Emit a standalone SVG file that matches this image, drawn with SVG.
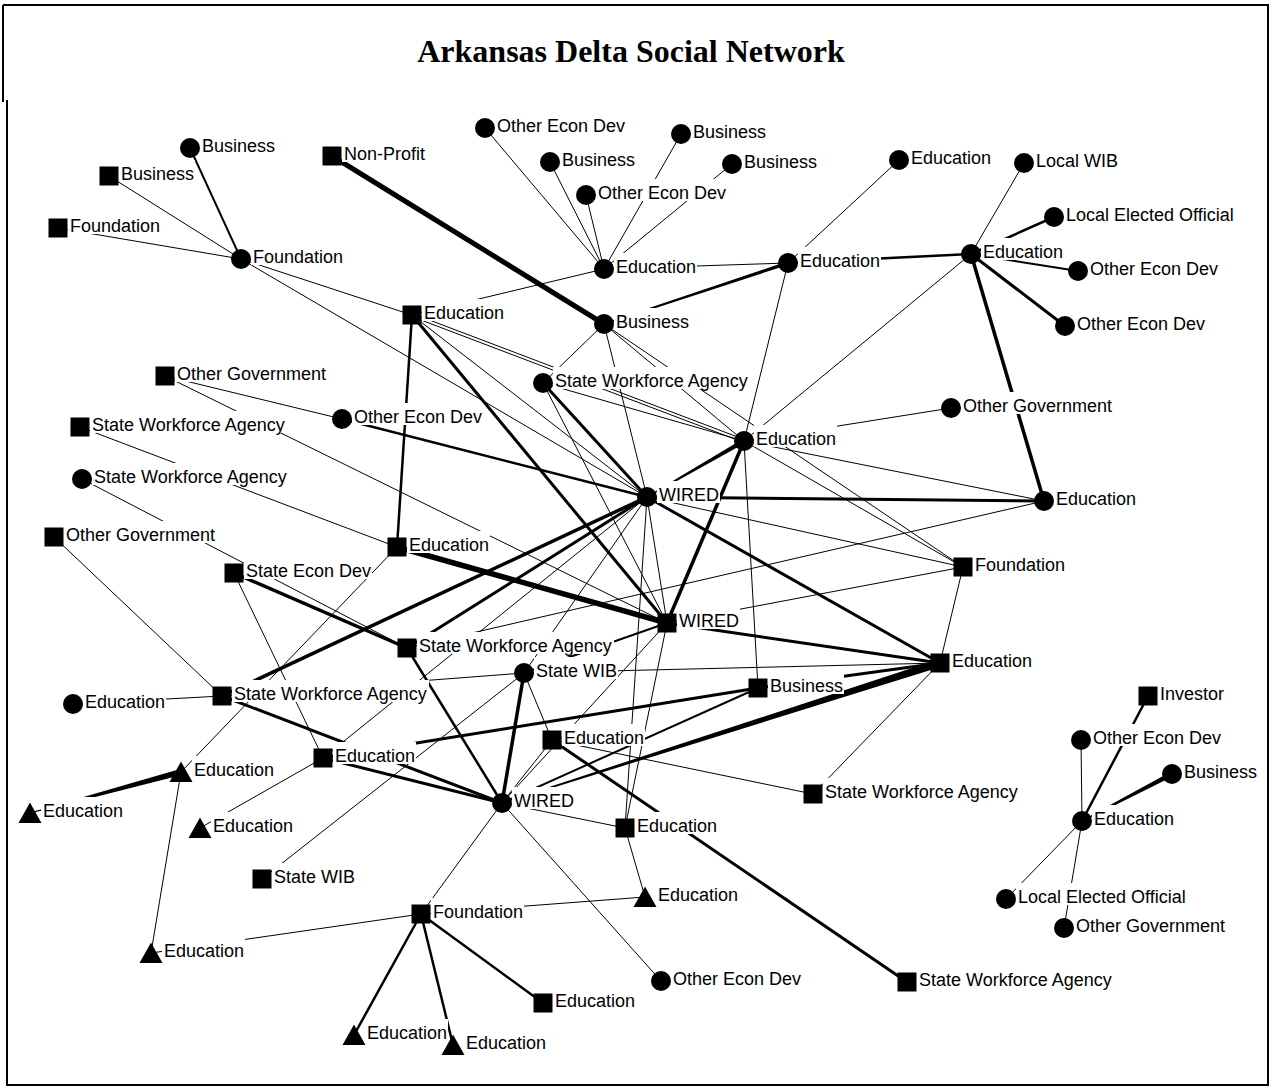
<svg xmlns="http://www.w3.org/2000/svg" width="1271" height="1086" viewBox="0 0 1271 1086">
<style>
  .frame{fill:none;stroke:#000;stroke-width:2}
  .title{font-family:"Liberation Serif","Times New Roman",serif;font-weight:bold;font-size:32px;fill:#000;text-anchor:middle}
  #edges line{stroke:#000;stroke-linecap:butt}
  #edges .w{fill:#000;stroke:none}
  .e1{stroke-width:1}
  .e2{stroke-width:2}
  .e25{stroke-width:2.5}
  .e3{stroke-width:3}
  .e35{stroke-width:3.5}
  .e5{stroke-width:5}
  .e55{stroke-width:5.5}
  .nodes circle,.nodes rect.s,.nodes polygon{fill:#000}
  .nodes rect.lb{fill:#fff}
  .nodes text{font-family:"Liberation Sans",Arial,sans-serif;font-size:18px;fill:#000}
</style>
<rect x="0" y="0" width="1271" height="1086" fill="#fff"/>
<path class="frame" d="M3,5 H1268 V1085 H7 V100 M3,5 V102"/>
<text class="title" x="631" y="62">Arkansas Delta Social Network</text>

<g id="edges">
  <!-- thin ties -->
  <line class="e1" x1="109" y1="176" x2="241" y2="259"/>
  <line class="e1" x1="58" y1="228" x2="241" y2="259"/>
  <line class="e1" x1="241" y1="259" x2="412" y2="315"/>
  <line class="e1" x1="241" y1="259" x2="647" y2="497"/>
  <line class="e1" x1="485" y1="128" x2="604" y2="269"/>
  <line class="e1" x1="550" y1="162" x2="604" y2="269"/>
  <line class="e1" x1="586" y1="195" x2="604" y2="269"/>
  <line class="e1" x1="681" y1="134" x2="604" y2="269"/>
  <line class="e1" x1="732" y1="164" x2="604" y2="269"/>
  <line class="e1" x1="604" y1="269" x2="788" y2="263"/>
  <line class="e1" x1="604" y1="269" x2="412" y2="315"/>
  <line class="e1" x1="788" y1="263" x2="899" y2="160"/>
  <line class="e1" x1="788" y1="263" x2="744" y2="441"/>
  <line class="e1" x1="1024" y1="163" x2="971" y2="254"/>
  <line class="e1" x1="971" y1="254" x2="744" y2="441"/>
  <line class="e1" x1="604" y1="324" x2="543" y2="383"/>
  <line class="e1" x1="604" y1="324" x2="647" y2="497"/>
  <line class="e1" x1="604" y1="324" x2="744" y2="441"/>
  <line class="e1" x1="604" y1="324" x2="963" y2="567"/>
  <line class="e1" x1="412" y1="315" x2="647" y2="497"/>
  <line class="e1" x1="411.5" y1="316.4" x2="743.5" y2="442.4"/>
  <line class="e1" x1="412.5" y1="313.6" x2="744.5" y2="439.6"/>
  <line class="e1" x1="543" y1="383" x2="744" y2="441"/>
  <line class="e1" x1="543" y1="383" x2="667" y2="623"/>
  <line class="e1" x1="951" y1="408" x2="744" y2="441"/>
  <line class="e1" x1="744" y1="441" x2="1044" y2="501"/>
  <line class="e1" x1="744" y1="441" x2="963" y2="567"/>
  <line class="e1" x1="744" y1="441" x2="758" y2="688"/>
  <line class="e1" x1="647" y1="497" x2="963" y2="567"/>
  <line class="e1" x1="667" y1="623" x2="963" y2="567"/>
  <line class="e1" x1="407" y1="648" x2="1044" y2="501"/>
  <line class="e1" x1="524" y1="673" x2="940" y2="663"/>
  <line class="e1" x1="963" y1="567" x2="940" y2="663"/>
  <line class="e1" x1="940" y1="663" x2="813" y2="794"/>
  <line class="e1" x1="647" y1="497" x2="625" y2="828"/>
  <line class="e1" x1="667" y1="623" x2="625" y2="828"/>
  <line class="e1" x1="647" y1="497" x2="667" y2="623"/>
  <line class="e1" x1="342" y1="419" x2="165" y2="376"/>
  <line class="e1" x1="165" y1="376" x2="667" y2="623"/>
  <line class="e1" x1="80" y1="427" x2="397" y2="547"/>
  <line class="e1" x1="82" y1="479" x2="407" y2="648"/>
  <line class="e1" x1="54" y1="537" x2="222" y2="696"/>
  <line class="e1" x1="234" y1="573" x2="323" y2="758"/>
  <line class="e1" x1="73" y1="704" x2="222" y2="696"/>
  <line class="e1" x1="397" y1="547" x2="181" y2="772"/>
  <line class="e1" x1="323" y1="758" x2="200" y2="828"/>
  <line class="e1" x1="323" y1="758" x2="647" y2="497"/>
  <line class="e1" x1="524" y1="673" x2="647" y2="497"/>
  <line class="e1" x1="524" y1="673" x2="552" y2="740"/>
  <line class="e1" x1="524" y1="673" x2="222" y2="696"/>
  <line class="e1" x1="262" y1="879" x2="524" y2="673"/>
  <line class="e1" x1="502" y1="803" x2="667" y2="623"/>
  <line class="e1" x1="502" y1="803" x2="552" y2="740"/>
  <line class="e1" x1="502" y1="803" x2="625" y2="828"/>
  <line class="e1" x1="502" y1="803" x2="421" y2="914"/>
  <line class="e1" x1="502" y1="803" x2="661" y2="981"/>
  <line class="e1" x1="552" y1="740" x2="813" y2="794"/>
  <line class="e1" x1="625" y1="828" x2="645" y2="897"/>
  <line class="e1" x1="421" y1="914" x2="645" y2="897"/>
  <line class="e1" x1="421" y1="914" x2="151" y2="953"/>
  <line class="e1" x1="181" y1="772" x2="151" y2="953"/>
  <line class="e1" x1="1081" y1="740" x2="1082" y2="821"/>
  <line class="e1" x1="1006" y1="899" x2="1082" y2="821"/>
  <line class="e1" x1="1064" y1="928" x2="1082" y2="821"/>

  <!-- medium ties -->
  <line class="e2" x1="190" y1="148" x2="241" y2="259"/>
  <line class="e25" x1="788" y1="263" x2="971" y2="254"/>
  <line class="e25" x1="1054" y1="217" x2="971" y2="254"/>
  <line class="e2" x1="971" y1="254" x2="1078" y2="271"/>
  <line class="e25" x1="342" y1="419" x2="647" y2="497"/>
  <line class="e25" x1="407" y1="648" x2="502" y2="803"/>
  <line class="e2" x1="502" y1="803" x2="758" y2="688"/>
  <line class="e2" x1="524" y1="673" x2="667" y2="623"/>
  <line class="e25" x1="1148" y1="696" x2="1082" y2="821"/>
  <line class="e25" x1="421" y1="914" x2="543" y2="1003"/>
  <line class="e25" x1="421" y1="914" x2="453" y2="1045"/>
  <line class="e25" x1="421" y1="914" x2="354" y2="1035"/>
  <line class="e3" x1="543" y1="383" x2="647" y2="497"/>

  <!-- strong ties -->
  <line class="e3" x1="971" y1="254" x2="1065" y2="326"/>
  <line class="e35" x1="971" y1="254" x2="1044" y2="501"/>
  <line class="e3" x1="647" y1="497" x2="1044" y2="501"/>
  <line class="e3" x1="647" y1="497" x2="940" y2="663"/>
  <line class="e3" x1="667" y1="623" x2="940" y2="663"/>
  <line class="e3" x1="758" y1="688" x2="940" y2="663"/>
  <line class="e3" x1="323" y1="758" x2="758" y2="688"/>
  <line class="e35" x1="222" y1="696" x2="647" y2="497"/>
  <line class="e3" x1="407" y1="648" x2="647" y2="497"/>
  <line class="e3" x1="222" y1="696" x2="502" y2="803"/>
  <line class="e3" x1="323" y1="758" x2="502" y2="803"/>
  <line class="e35" x1="234" y1="573" x2="407" y2="648"/>
  <line class="e3" x1="552" y1="740" x2="907" y2="982"/>
  <line class="e25" x1="412" y1="315" x2="397" y2="547"/>
  <line class="e3" x1="412" y1="315" x2="667" y2="623"/>
  <line class="e35" x1="744" y1="441" x2="667" y2="623"/>
  <line class="e35" x1="524" y1="673" x2="502" y2="803"/>
  <line class="e5" x1="332" y1="156" x2="604" y2="324"/>
  <line class="e55" x1="397" y1="547" x2="667" y2="623"/>

  <!-- tapered ties -->
  <polygon class="w" points="938.78,659.19 501.85,802.52 502.15,803.48 941.22,666.81"/>
  <polygon class="w" points="742.88,439.05 646.75,496.57 647.25,497.43 745.13,442.95"/>
  <polygon class="w" points="180.21,769.1 29.87,812.52 30.13,813.48 181.79,774.9"/>
  <polygon class="w" points="1170.84,771.78 1081.77,820.56 1082.23,821.44 1173.16,776.22"/>
  <polygon class="w" points="787.45,261.34 603.76,323.29 604.24,324.71 788.55,264.66"/>
</g>

<g class="nodes">
  <g id="n1"><circle cx="190" cy="148" r="10"/><rect class="lb" x="200" y="132" width="76" height="22"/><text x="202" y="151.5">Business</text></g>
  <g id="n2"><rect class="s" x="99.5" y="166.5" width="19" height="19"/><rect class="lb" x="119" y="160" width="76" height="22"/><text x="121" y="179.5">Business</text></g>
  <g id="n3"><rect class="s" x="48.5" y="218.5" width="19" height="19"/><rect class="lb" x="68" y="212" width="93" height="22"/><text x="70" y="231.5">Foundation</text></g>
  <g id="n4"><circle cx="241" cy="259" r="10"/><rect class="lb" x="251" y="243" width="93" height="22"/><text x="253" y="262.5">Foundation</text></g>
  <g id="n5"><rect class="s" x="322.5" y="146.5" width="19" height="19"/><rect class="lb" x="342" y="140" width="84" height="22"/><text x="344" y="159.5">Non-Profit</text></g>
  <g id="n6"><circle cx="485" cy="128" r="10"/><rect class="lb" x="495" y="112" width="131" height="22"/><text x="497" y="131.5">Other Econ Dev</text></g>
  <g id="n7"><circle cx="550" cy="162" r="10"/><rect class="lb" x="560" y="146" width="76" height="22"/><text x="562" y="165.5">Business</text></g>
  <g id="n8"><circle cx="586" cy="195" r="10"/><rect class="lb" x="596" y="179" width="131" height="22"/><text x="598" y="198.5">Other Econ Dev</text></g>
  <g id="n9"><circle cx="681" cy="134" r="10"/><rect class="lb" x="691" y="118" width="76" height="22"/><text x="693" y="137.5">Business</text></g>
  <g id="n10"><circle cx="732" cy="164" r="10"/><rect class="lb" x="742" y="148" width="76" height="22"/><text x="744" y="167.5">Business</text></g>
  <g id="n11"><circle cx="604" cy="269" r="10"/><rect class="lb" x="614" y="253" width="83" height="22"/><text x="616" y="272.5">Education</text></g>
  <g id="n12"><circle cx="788" cy="263" r="10"/><rect class="lb" x="798" y="247" width="83" height="22"/><text x="800" y="266.5">Education</text></g>
  <g id="n13"><circle cx="604" cy="324" r="10"/><rect class="lb" x="614" y="308" width="76" height="22"/><text x="616" y="327.5">Business</text></g>
  <g id="n14"><rect class="s" x="402.5" y="305.5" width="19" height="19"/><rect class="lb" x="422" y="299" width="83" height="22"/><text x="424" y="318.5">Education</text></g>
  <g id="n15"><circle cx="543" cy="383" r="10"/><rect class="lb" x="553" y="367" width="197" height="22"/><text x="555" y="386.5">State Workforce Agency</text></g>
  <g id="n16"><circle cx="899" cy="160" r="10"/><rect class="lb" x="909" y="144" width="83" height="22"/><text x="911" y="163.5">Education</text></g>
  <g id="n17"><circle cx="1024" cy="163" r="10"/><rect class="lb" x="1034" y="147" width="85" height="22"/><text x="1036" y="166.5">Local WIB</text></g>
  <g id="n18"><circle cx="1054" cy="217" r="10"/><rect class="lb" x="1064" y="201" width="171" height="22"/><text x="1066" y="220.5">Local Elected Official</text></g>
  <g id="n19"><circle cx="971" cy="254" r="10"/><rect class="lb" x="981" y="238" width="83" height="22"/><text x="983" y="257.5">Education</text></g>
  <g id="n20"><circle cx="1078" cy="271" r="10"/><rect class="lb" x="1088" y="255" width="131" height="22"/><text x="1090" y="274.5">Other Econ Dev</text></g>
  <g id="n21"><circle cx="1065" cy="326" r="10"/><rect class="lb" x="1075" y="310" width="131" height="22"/><text x="1077" y="329.5">Other Econ Dev</text></g>
  <g id="n22"><circle cx="951" cy="408" r="10"/><rect class="lb" x="961" y="392" width="152" height="22"/><text x="963" y="411.5">Other Government</text></g>
  <g id="n23"><circle cx="744" cy="441" r="10"/><rect class="lb" x="754" y="425" width="83" height="22"/><text x="756" y="444.5">Education</text></g>
  <g id="n24"><circle cx="1044" cy="501" r="10"/><rect class="lb" x="1054" y="485" width="83" height="22"/><text x="1056" y="504.5">Education</text></g>
  <g id="n25"><rect class="s" x="953.5" y="557.5" width="19" height="19"/><rect class="lb" x="973" y="551" width="93" height="22"/><text x="975" y="570.5">Foundation</text></g>
  <g id="n26"><rect class="s" x="930.5" y="653.5" width="19" height="19"/><rect class="lb" x="950" y="647" width="83" height="22"/><text x="952" y="666.5">Education</text></g>
  <g id="n27"><rect class="s" x="1138.5" y="686.5" width="19" height="19"/><rect class="lb" x="1158" y="680" width="67" height="22"/><text x="1160" y="699.5">Investor</text></g>
  <g id="n28"><circle cx="1081" cy="740" r="10"/><rect class="lb" x="1091" y="724" width="131" height="22"/><text x="1093" y="743.5">Other Econ Dev</text></g>
  <g id="n29"><circle cx="1172" cy="774" r="10"/><rect class="lb" x="1182" y="758" width="76" height="22"/><text x="1184" y="777.5">Business</text></g>
  <g id="n30"><circle cx="1082" cy="821" r="10"/><rect class="lb" x="1092" y="805" width="83" height="22"/><text x="1094" y="824.5">Education</text></g>
  <g id="n31"><circle cx="1006" cy="899" r="10"/><rect class="lb" x="1016" y="883" width="171" height="22"/><text x="1018" y="902.5">Local Elected Official</text></g>
  <g id="n32"><circle cx="1064" cy="928" r="10"/><rect class="lb" x="1074" y="912" width="152" height="22"/><text x="1076" y="931.5">Other Government</text></g>
  <g id="n33"><rect class="s" x="897.5" y="972.5" width="19" height="19"/><rect class="lb" x="917" y="966" width="197" height="22"/><text x="919" y="985.5">State Workforce Agency</text></g>
  <g id="n34"><circle cx="647" cy="497" r="10"/><rect class="lb" x="657" y="481" width="63" height="22"/><text x="659" y="500.5">WIRED</text></g>
  <g id="n35"><rect class="s" x="657.5" y="613.5" width="19" height="19"/><rect class="lb" x="677" y="607" width="63" height="22"/><text x="679" y="626.5">WIRED</text></g>
  <g id="n36"><rect class="s" x="748.5" y="678.5" width="19" height="19"/><rect class="lb" x="768" y="672" width="76" height="22"/><text x="770" y="691.5">Business</text></g>
  <g id="n37"><circle cx="524" cy="673" r="10"/><rect class="lb" x="534" y="657" width="84" height="22"/><text x="536" y="676.5">State WIB</text></g>
  <g id="n38"><rect class="s" x="397.5" y="638.5" width="19" height="19"/><rect class="lb" x="417" y="632" width="197" height="22"/><text x="419" y="651.5">State Workforce Agency</text></g>
  <g id="n39"><rect class="s" x="387.5" y="537.5" width="19" height="19"/><rect class="lb" x="407" y="531" width="83" height="22"/><text x="409" y="550.5">Education</text></g>
  <g id="n40"><rect class="s" x="224.5" y="563.5" width="19" height="19"/><rect class="lb" x="244" y="557" width="128" height="22"/><text x="246" y="576.5">State Econ Dev</text></g>
  <g id="n41"><rect class="s" x="44.5" y="527.5" width="19" height="19"/><rect class="lb" x="64" y="521" width="152" height="22"/><text x="66" y="540.5">Other Government</text></g>
  <g id="n42"><circle cx="82" cy="479" r="10"/><rect class="lb" x="92" y="463" width="197" height="22"/><text x="94" y="482.5">State Workforce Agency</text></g>
  <g id="n43"><rect class="s" x="212.5" y="686.5" width="19" height="19"/><rect class="lb" x="232" y="680" width="197" height="22"/><text x="234" y="699.5">State Workforce Agency</text></g>
  <g id="n44"><circle cx="73" cy="704" r="10"/><rect class="lb" x="83" y="688" width="83" height="22"/><text x="85" y="707.5">Education</text></g>
  <g id="n45"><rect class="s" x="313.5" y="748.5" width="19" height="19"/><rect class="lb" x="333" y="742" width="83" height="22"/><text x="335" y="761.5">Education</text></g>
  <g id="n46"><polygon points="181,761.5 192.5,782 169.5,782"/><rect class="lb" x="192" y="756" width="83" height="22"/><text x="194" y="775.5">Education</text></g>
  <g id="n47"><polygon points="30,802.5 41.5,823 18.5,823"/><rect class="lb" x="41" y="797" width="83" height="22"/><text x="43" y="816.5">Education</text></g>
  <g id="n48"><polygon points="200,817.5 211.5,838 188.5,838"/><rect class="lb" x="211" y="812" width="83" height="22"/><text x="213" y="831.5">Education</text></g>
  <g id="n49"><rect class="s" x="252.5" y="869.5" width="19" height="19"/><rect class="lb" x="272" y="863" width="84" height="22"/><text x="274" y="882.5">State WIB</text></g>
  <g id="n50"><polygon points="151,942.5 162.5,963 139.5,963"/><rect class="lb" x="162" y="937" width="83" height="22"/><text x="164" y="956.5">Education</text></g>
  <g id="n51"><rect class="s" x="411.5" y="904.5" width="19" height="19"/><rect class="lb" x="431" y="898" width="93" height="22"/><text x="433" y="917.5">Foundation</text></g>
  <g id="n52"><circle cx="502" cy="803" r="10"/><rect class="lb" x="512" y="787" width="63" height="22"/><text x="514" y="806.5">WIRED</text></g>
  <g id="n53"><rect class="s" x="542.5" y="730.5" width="19" height="19"/><rect class="lb" x="562" y="724" width="83" height="22"/><text x="564" y="743.5">Education</text></g>
  <g id="n54"><rect class="s" x="615.5" y="818.5" width="19" height="19"/><rect class="lb" x="635" y="812" width="83" height="22"/><text x="637" y="831.5">Education</text></g>
  <g id="n55"><polygon points="645,886.5 656.5,907 633.5,907"/><rect class="lb" x="656" y="881" width="83" height="22"/><text x="658" y="900.5">Education</text></g>
  <g id="n56"><circle cx="661" cy="981" r="10"/><rect class="lb" x="671" y="965" width="131" height="22"/><text x="673" y="984.5">Other Econ Dev</text></g>
  <g id="n57"><rect class="s" x="533.5" y="993.5" width="19" height="19"/><rect class="lb" x="553" y="987" width="83" height="22"/><text x="555" y="1006.5">Education</text></g>
  <g id="n58"><polygon points="453,1034.5 464.5,1055 441.5,1055"/><rect class="lb" x="464" y="1029" width="83" height="22"/><text x="466" y="1048.5">Education</text></g>
  <g id="n59"><polygon points="354,1024.5 365.5,1045 342.5,1045"/><rect class="lb" x="365" y="1019" width="83" height="22"/><text x="367" y="1038.5">Education</text></g>
  <g id="n60"><rect class="s" x="803.5" y="784.5" width="19" height="19"/><rect class="lb" x="823" y="778" width="197" height="22"/><text x="825" y="797.5">State Workforce Agency</text></g>
  <g id="n61"><circle cx="342" cy="419" r="10"/><rect class="lb" x="352" y="403" width="131" height="22"/><text x="354" y="422.5">Other Econ Dev</text></g>
  <g id="n62"><rect class="s" x="155.5" y="366.5" width="19" height="19"/><rect class="lb" x="175" y="360" width="152" height="22"/><text x="177" y="379.5">Other Government</text></g>
  <g id="n63"><rect class="s" x="70.5" y="417.5" width="19" height="19"/><rect class="lb" x="90" y="411" width="197" height="22"/><text x="92" y="430.5">State Workforce Agency</text></g>
</g>
</svg>
